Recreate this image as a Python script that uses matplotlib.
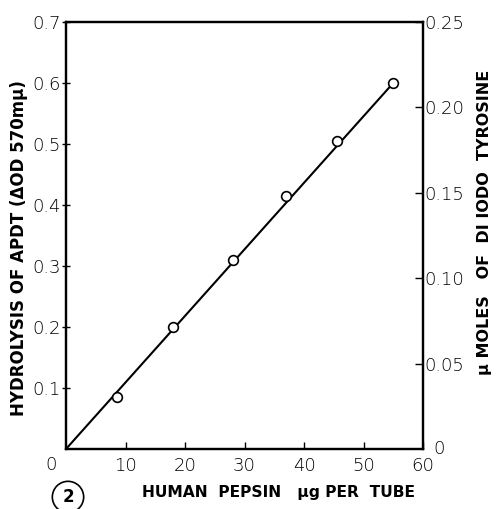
import matplotlib.pyplot as plt
import numpy as np

# data
pepsin_ug = [8.5, 18, 28, 37, 45.5, 55]
hydrolysis = [0.085, 0.20, 0.31, 0.415, 0.505, 0.60]
fit_x = [0, 55]
fit_y = [0, 0.60]

left_ticks = [0.1, 0.2, 0.3, 0.4, 0.5, 0.6, 0.7]
left_labels = ["0.1", "0.2", "0.3", "0.4", "0.5", "0.6", "0.7"]
right_ticks = [0.05, 0.10, 0.15, 0.20, 0.25]
right_labels = ["0.05", "0.10", "0.15", "0.20", "0.25"]
x_ticks = [10, 20, 30, 40, 50, 60]
x_labels = ["10", "20", "30", "40", "50", "60"]

tick_font = dict(family="DejaVu Sans", weight="light", size=13, color="black")
lab_font = dict(family="DejaVu Sans", weight="bold", size=12)

fig = plt.figure(figsize=(5.01, 5.09), dpi=100)
ax = fig.add_axes([66/501, 1-449/509, (423-66)/501, (449-22)/509])

ax.plot(fit_x, fit_y, color="black", lw=1.5, zorder=2)
ax.plot(pepsin_ug, hydrolysis, "o", ms=7, mfc="white", mec="black", mew=1.2, zorder=3)

ax.set_xlim(0, 60)
ax.set_ylim(0, 0.7)
ax.set_xticks(x_ticks)
ax.set_xticklabels(x_labels, **tick_font)
ax.set_yticks(left_ticks)
ax.set_yticklabels(left_labels, **tick_font)
ax.tick_params(axis="x", direction="in", length=5, width=1, pad=6)
ax.tick_params(axis="y", direction="inout", length=6, width=1, pad=1)
for s in ax.spines.values():
    s.set_linewidth(1.6)

ax2 = ax.twinx()
ax2.set_ylim(0, 0.25)
ax2.set_yticks(right_ticks)
ax2.set_yticklabels(right_labels, **tick_font)
ax2.tick_params(axis="y", direction="in", length=6, width=1, pad=1)
for s in ax2.spines.values():
    s.set_linewidth(1.6)

# stray zeros at the corners
ax.text(-1.5, -0.012, "0", ha="right", va="top", **tick_font)
ax2.text(61.8, 0.0, "0", ha="left", va="center", **tick_font)

fig.text(19/501, 1-248/509, "HYDROLYSIS OF APDT (\u0394OD 570m\u03bc)", rotation=90,
         ha="center", va="center", **lab_font)
fig.text(485/501, 1-222/509, "\u03bc MOLES   OF  DI IODO  TYROSINE", rotation=90,
         ha="center", va="center", family="DejaVu Sans", weight="bold", size=11.5)
fig.text(278/501, 1-492/509, "HUMAN  PEPSIN   \u03bcg PER  TUBE",
         ha="center", va="center", family="DejaVu Sans", weight="bold", size=11.2)
fig.text(68/501, 1-497/509, "2", ha="center", va="center",
         family="DejaVu Sans", weight="bold", size=12,
         bbox=dict(boxstyle="circle,pad=0.4", fc="white", ec="black", lw=1.2))

fig.savefig("out.png", dpi=100)
